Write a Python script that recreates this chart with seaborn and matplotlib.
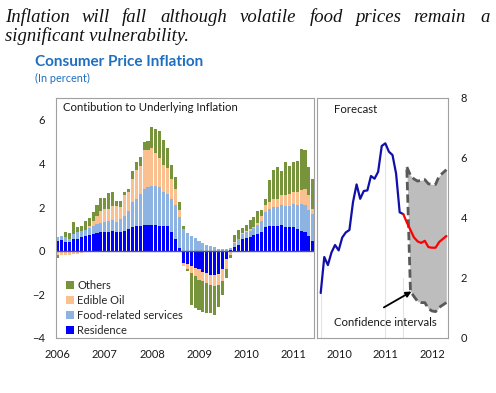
import numpy as np
import seaborn as sns
import matplotlib.pyplot as plt
from matplotlib.patches import Patch

# Contribution to underlying inflation, monthly bars (2006 - mid 2011), in percent
residence = [0.46, 0.49, 0.41, 0.38, 0.53, 0.56, 0.61, 0.69, 0.72, 0.76, 0.81, 0.84,
             0.87, 0.87, 0.92, 0.84, 0.87, 0.92, 0.99, 1.07, 1.12, 1.15, 1.18, 1.18,
             1.18, 1.20, 1.15, 1.15, 1.15, 0.84, 0.53, 0.12, -0.55, -0.62, -0.70, -0.78,
             -0.86, -0.96, -1.01, -1.09, -1.12, -1.06, -0.86, -0.39, 0.02, 0.15, 0.28, 0.52,
             0.60, 0.63, 0.70, 0.75, 0.84, 1.07, 1.15, 1.15, 1.12, 1.18, 1.07, 1.07,
             1.07, 1.00, 0.92, 0.87, 0.69, 0.46]
food_services = [0.15, 0.17, 0.20, 0.18, 0.23, 0.28, 0.31, 0.27, 0.30, 0.39, 0.42, 0.43,
                 0.43, 0.51, 0.50, 0.49, 0.58, 0.69, 0.85, 1.16, 1.27, 1.45, 1.67, 1.74,
                 1.79, 1.75, 1.75, 1.54, 1.47, 1.54, 1.55, 1.43, 1.00, 0.80, 0.69, 0.58,
                 0.46, 0.35, 0.27, 0.20, 0.15, 0.10, 0.06, 0.08, 0.10, 0.20, 0.24, 0.24,
                 0.24, 0.29, 0.35, 0.42, 0.54, 0.70, 0.77, 0.85, 0.88, 0.90, 0.98, 1.00,
                 1.05, 1.08, 1.23, 1.21, 1.16, 1.23]
edible_oil = [-0.21, -0.20, -0.19, -0.18, -0.16, -0.14, -0.10, -0.06, 0.12, 0.23, 0.38, 0.53,
              0.59, 0.54, 0.65, 0.74, 0.55, 0.96, 0.86, 1.07, 1.31, 1.30, 1.77, 1.70,
              1.73, 1.52, 1.34, 1.24, 1.15, 0.93, 0.77, 0.30, -0.15, -0.24, -0.31, -0.39,
              -0.46, -0.44, -0.46, -0.46, -0.51, -0.49, -0.54, -0.47, -0.20, 0.03, 0.03, 0.04,
              0.05, 0.06, 0.06, 0.12, 0.23, 0.31, 0.31, 0.35, 0.39, 0.46, 0.50, 0.55,
              0.55, 0.60, 0.62, 0.77, 0.69, 0.23]
others = [-0.14, 0.02, 0.23, 0.26, 0.54, 0.23, 0.23, 0.42, 0.35, 0.39, 0.47, 0.62,
          0.51, 0.74, 0.62, 0.23, 0.30, 0.12, 0.15, 0.35, 0.35, 0.40, 0.38, 0.40,
          0.96, 1.12, 1.23, 1.15, 0.93, 0.62, 0.54, 0.38, 0.15, -0.07, -1.47, -1.46,
          -1.39, -1.39, -1.39, -1.31, -1.31, -1.01, -0.61, -0.38, -0.12, 0.35, 0.40, 0.25,
          0.31, 0.42, 0.42, 0.55, 0.27, 0.31, 1.00, 1.34, 1.43, 1.12, 1.53, 1.28,
          1.41, 1.42, 1.88, 1.77, 1.31, 1.39]

# Headline CPI inflation (right panel), in percent
cpi_actual = [1.50, 2.70, 2.43, 2.85, 3.10, 2.92, 3.35, 3.52, 3.60, 4.53, 5.12, 4.64,
              4.90, 4.92, 5.40, 5.31, 5.54, 6.40, 6.49, 6.21, 6.10, 5.48, 4.19, 4.13]
cpi_forecast = [4.13, 3.85, 3.60, 3.35, 3.22, 3.17, 3.24, 3.03, 3.01, 3.01, 3.20, 3.30, 3.40]
ci_upper = [5.70, 5.42, 5.30, 5.23, 5.26, 5.28, 5.14, 5.12, 5.12, 5.40, 5.50, 5.61]
ci_lower = [5.62, 1.56, 1.38, 1.22, 1.18, 1.18, 0.98, 0.90, 0.88, 1.02, 1.10, 1.18]

left_years = ["2006", "2007", "2008", "2009", "2010", "2011"]
right_years = ["2010", "2011", "2012"]
series_names = ["Residence", "Food-related services", "Edible Oil", "Others"]
series_colors = ["#0000FF", "#8DB3E2", "#FAC090", "#77933C"]

sns.set_theme(style="white")
plt.rcParams["font.family"] = ["Lato", "DejaVu Sans"]

fig = plt.figure(figsize=(4.96, 3.93), dpi=100)
W, H = 496, 393

ax1 = fig.add_axes([56 / W, 1 - 338 / H, 258 / W, 240 / H])
ax2 = fig.add_axes([317 / W, 1 - 338 / H, 131 / W, 240 / H])

# ---- left panel: stacked contributions
x = np.arange(len(residence))
pos = np.zeros(len(x))
neg = np.zeros(len(x))
for vals, col in zip([residence, food_services, edible_oil, others], series_colors):
    v = np.array(vals)
    bottom = np.where(v >= 0, pos, neg)
    ax1.bar(x, v, bottom=bottom, width=0.78, color=col, linewidth=0)
    pos += np.clip(v, 0, None)
    neg += np.clip(v, None, 0)

ax1.axhline(0, color="#595959", lw=1)
ax1.set_xlim(-0.45, 65.3)
ax1.set_ylim(-4, 7)
ax1.set_yticks([-4, -2, 0, 2, 4, 6])
ax1.set_xticks(np.arange(0, 72, 12))
ax1.set_xticklabels(left_years)
ax1.tick_params(length=0, labelsize=8, colors="#1a1a1a")
ax1.tick_params(axis="y", pad=8)
ax1.tick_params(axis="x", pad=8)
ax1.text(0.026, 0.945, "Contibution to Underlying Inflation", transform=ax1.transAxes,
         fontsize=8.2, color="#1a1a1a", va="baseline")

handles = [Patch(facecolor=c, edgecolor="none") for c in series_colors[::-1]]
ax1.legend(handles, series_names[::-1], loc="lower left", bbox_to_anchor=(0.03, 0.0),
           frameon=False, fontsize=8, handlelength=0.75, handleheight=0.75,
           handletextpad=0.25, labelspacing=0.35, borderpad=0.1, borderaxespad=0.1)

# ---- right panel: headline and forecast
i_act = np.arange(len(cpi_actual))
i_fc = np.arange(len(cpi_forecast)) + len(cpi_actual) - 1
i_ci = np.arange(len(ci_upper)) + len(cpi_actual)

for i in [0, 18]:
    ax2.plot([i, i], [0, cpi_actual[i]], color="#E4E4E4", lw=0.8, zorder=0)
ax2.plot([22.8, 22.8], [0, 2.0], color="#E4E4E4", lw=0.8, zorder=0)

ax2.fill_between(i_ci, ci_lower, ci_upper, color="#BDBDBD", lw=0, zorder=1)
ax2.plot(i_ci, ci_upper, color="#595959", lw=2, ls=(0, (3, 1.5)), zorder=2)
ax2.plot(i_ci, ci_lower, color="#595959", lw=2, ls=(0, (3, 1.5)), zorder=2)

sns.lineplot(x=i_act, y=cpi_actual, ax=ax2, color="#1010A8", lw=1.6, zorder=3)
sns.lineplot(x=i_fc, y=cpi_forecast, ax=ax2, color="#FF0000", lw=1.6, zorder=3)

ax2.annotate("", xy=(25.3, 1.55), xytext=(17.6, 1.02),
             arrowprops=dict(arrowstyle="-|>", color="black", lw=1.3,
                             mutation_scale=8, shrinkA=0, shrinkB=0))
ax2.text(17.9, 0.4, "Confidence intervals", ha="center", va="baseline",
         fontsize=8.2, color="#1a1a1a")
ax2.text(3.7, 7.5, "Forecast", ha="left", va="baseline", fontsize=8.2, color="#1a1a1a")

ax2.set_xlim(-1.03, 35.46)
ax2.set_ylim(0, 8)
ax2.set_yticks([0, 2, 4, 6, 8])
ax2.set_xticks([5.1, 18.1, 31.1])
ax2.set_xticklabels(right_years)
ax2.yaxis.tick_right()
ax2.tick_params(length=0, labelsize=8, colors="#1a1a1a")
ax2.tick_params(axis="y", pad=9)
ax2.tick_params(axis="x", pad=8)

for ax in (ax1, ax2):
    for s in ax.spines.values():
        s.set_color("#A0A0A0")
        s.set_linewidth(0.8)
    ax.grid(False)

# ---- headings
words = ["Inflation", "will", "fall", "although", "volatile", "food", "prices", "remain", "a"]
word_x = [5, 82, 122, 160, 240, 310, 355, 413, 480]
for w, wx in zip(words, word_x):
    fig.text(wx / W, 1 - 22 / H, w, family="Liberation Serif", style="italic",
             fontsize=13.5, va="baseline", color="#111111")
fig.text(5 / W, 1 - 41 / H, "significant vulnerability.", family="Liberation Serif",
         style="italic", fontsize=13.5, va="baseline", color="#111111")
fig.text(35 / W, 1 - 66.5 / H, "Consumer Price Inflation", fontsize=11, weight="bold",
         color="#1F6FC0", va="baseline")
fig.text(35 / W, 1 - 81.5 / H, "(In percent)", fontsize=7.8, color="#1F6FC0", va="baseline")

fig.savefig("out.png", dpi=100)
